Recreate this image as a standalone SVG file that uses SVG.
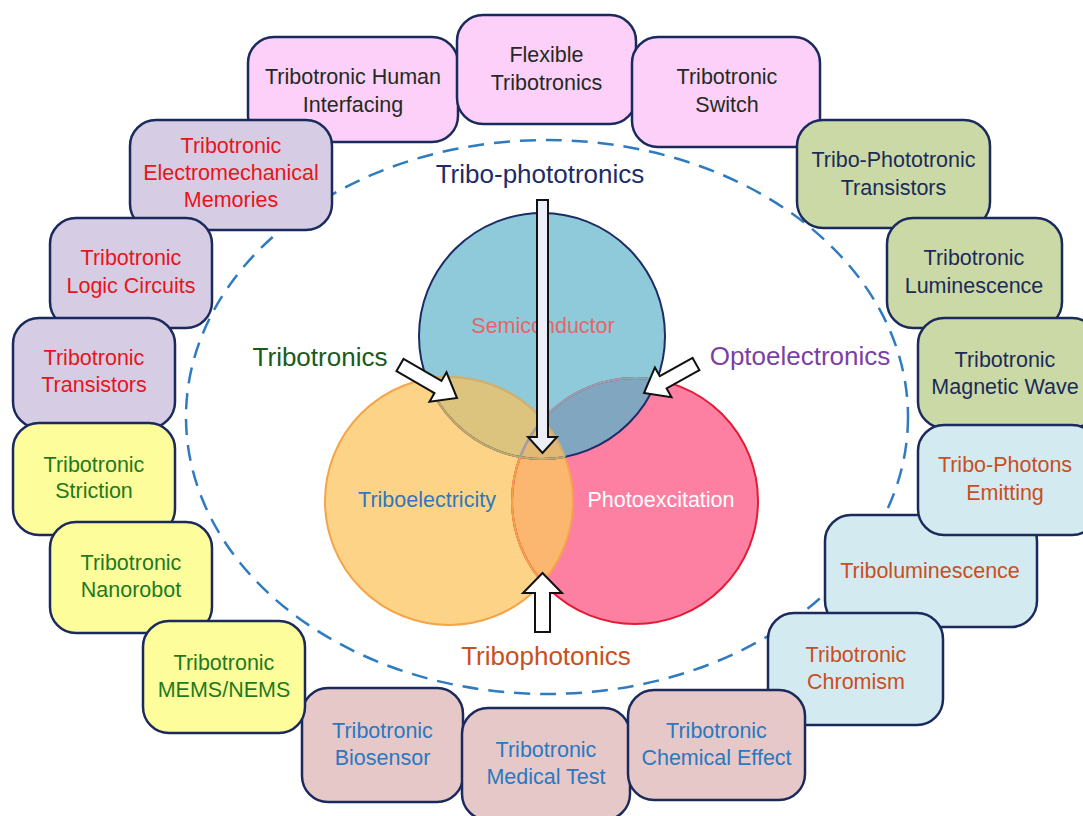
<svg xmlns="http://www.w3.org/2000/svg" width="1083" height="816" viewBox="0 0 1083 816">
<style>
.box{stroke:#1b2a5c;stroke-width:2.5}
.pk{fill:#fcd0f9}.lv{fill:#d6cde4}.yl{fill:#fdfd9b}.rs{fill:#e7c8c9}.lb{fill:#d4eaf1}.gr{fill:#cbd9a6}
.t{font-family:"Liberation Sans",Arial,sans-serif;font-size:21.5px;text-anchor:middle}
.tpk{fill:#1f2b1f}.tlv{fill:#e8141c}.tyl{fill:#1f7a1f}.trs{fill:#2a78c0}.tlb{fill:#c84f1e}.tgr{fill:#1b2b58}
.lab{font-family:"Liberation Sans",Arial,sans-serif;font-size:26px;text-anchor:middle}
.arr{fill:#ffffff;stroke:#111111;stroke-width:2;stroke-linejoin:miter}
</style>
<defs>
<clipPath id="cOr"><circle cx="449" cy="501" r="124"/></clipPath>
<clipPath id="cPk"><circle cx="635" cy="501" r="123"/></clipPath>
<clipPath id="cBl"><circle cx="542" cy="336" r="123"/></clipPath>
</defs>
<rect width="1083" height="816" fill="#ffffff"/>
<ellipse cx="547" cy="417" rx="361" ry="277" fill="none" stroke="#2e7bbf" stroke-width="2.5" stroke-dasharray="16 10"/>

<g id="venn">
<circle cx="449" cy="501" r="124" fill="#fdd487"/>
<circle cx="635" cy="501" r="123" fill="#fd80a3"/>
<circle cx="542" cy="336" r="123" fill="#8ecad9"/>
<g clip-path="url(#cOr)"><circle cx="635" cy="501" r="123" fill="#fbb66f"/><circle cx="542" cy="336" r="123" fill="#dcc47e"/></g>
<g clip-path="url(#cPk)"><circle cx="542" cy="336" r="123" fill="#80a6c0"/></g>
<g clip-path="url(#cOr)"><g clip-path="url(#cPk)"><circle cx="542" cy="336" r="123" fill="#e2b874"/></g></g>
<circle cx="449" cy="501" r="124" fill="none" stroke="#f3a548" stroke-width="2"/>
<circle cx="635" cy="501" r="123" fill="none" stroke="#e41b34" stroke-width="2"/>
<circle cx="542" cy="336" r="123" fill="none" stroke="#1d2c66" stroke-width="2"/>
<g clip-path="url(#cOr)"><circle cx="542" cy="336" r="123" fill="none" stroke="#c6aa6c" stroke-width="2"/><circle cx="635" cy="501" r="123" fill="none" stroke="#f2a24a" stroke-width="2"/></g>
<g clip-path="url(#cBl)"><circle cx="449" cy="501" r="124" fill="none" stroke="#c9b27a" stroke-width="2"/><circle cx="635" cy="501" r="123" fill="none" stroke="#8fa6ba" stroke-width="2"/></g>
<text class="lab" x="543" y="333" style="font-size:21.5px" fill="#e8646a">Semiconductor</text>
<text class="lab" x="427" y="507" style="font-size:21.5px" fill="#2f78bd">Triboelectricity</text>
<text class="lab" x="661" y="507" style="font-size:21.5px" fill="#ffffff">Photoexcitation</text>
</g>

<g id="labels">
<text class="lab" x="540" y="183" fill="#1d2c66">Tribo-phototronics</text>
<text class="lab" x="320" y="366" fill="#1a5a1a">Tribotronics</text>
<text class="lab" x="800" y="365" fill="#7b3fa8">Optoelectronics</text>
<text class="lab" x="546" y="665" fill="#c8501c">Tribophotonics</text>
</g>

<g id="connectors">
<polygon class="arr" style="fill:#eceff7" points="537,200 548,200 548,437 557,437 542.5,453 528,437 537,437"/>
<polygon class="arr" points="542.5,573 562,593 550,593 550,632 535,632 535,593 523,593"/>
<polygon class="arr" points="396.5,371.1 403.5,358.9 441.5,380.9 446.5,372.3 457,398 429.5,401.7 434.5,393.1"/>
<polygon class="arr" points="692.6,357.9 699.4,370.1 666.6,388.4 671.5,397.2 644,393 654.9,367.4 659.8,376.2"/>
</g>

<g id="n-human"><rect class="box pk" x="248" y="37" width="210" height="105" rx="26"/><text class="t tpk" x="353" y="84">Tribotronic Human</text><text class="t tpk" x="353" y="112">Interfacing</text></g>
<g id="n-flexible"><rect class="box pk" x="457" y="15" width="179" height="109" rx="26"/><text class="t tpk" x="546.5" y="62">Flexible</text><text class="t tpk" x="546.5" y="90">Tribotronics</text></g>
<g id="n-switch"><rect class="box pk" x="632" y="37" width="188" height="110" rx="26"/><text class="t tpk" x="727" y="84">Tribotronic</text><text class="t tpk" x="727" y="112">Switch</text></g>
<g id="n-phototrans"><rect class="box gr" x="797" y="120" width="193" height="108" rx="26"/><text class="t tgr" x="893.5" y="167">Tribo-Phototronic</text><text class="t tgr" x="893.5" y="195">Transistors</text></g>
<g id="n-luminescence"><rect class="box gr" x="887" y="218" width="175" height="110" rx="26"/><text class="t tgr" x="974" y="265">Tribotronic</text><text class="t tgr" x="974" y="293">Luminescence</text></g>
<g id="n-magnetic"><rect class="box gr" x="918" y="318" width="180" height="110" rx="26"/><text class="t tgr" x="1005" y="367">Tribotronic</text><text class="t tgr" x="1005" y="394">Magnetic Wave</text></g>
<g id="n-triboluminescence"><rect class="box lb" x="825" y="515" width="212" height="112" rx="26"/><text class="t tlb" x="930" y="578">Triboluminescence</text></g>
<g id="n-photons"><rect class="box lb" x="918" y="425" width="180" height="110" rx="26"/><text class="t tlb" x="1005" y="472">Tribo-Photons</text><text class="t tlb" x="1005" y="500">Emitting</text></g>
<g id="n-chromism"><rect class="box lb" x="768" y="613" width="175" height="112" rx="26"/><text class="t tlb" x="856" y="662">Tribotronic</text><text class="t tlb" x="856" y="689">Chromism</text></g>
<g id="n-biosensor"><rect class="box rs" x="302" y="688" width="161" height="114" rx="26"/><text class="t trs" x="382.5" y="738">Tribotronic</text><text class="t trs" x="382.5" y="765">Biosensor</text></g>
<g id="n-medical"><rect class="box rs" x="462" y="708" width="168" height="112" rx="26"/><text class="t trs" x="546" y="757">Tribotronic</text><text class="t trs" x="546" y="784">Medical Test</text></g>
<g id="n-chemical"><rect class="box rs" x="628" y="690" width="177" height="110" rx="26"/><text class="t trs" x="716.5" y="738">Tribotronic</text><text class="t trs" x="716.5" y="765">Chemical Effect</text></g>
<g id="n-memories"><rect class="box lv" x="130" y="120" width="202" height="110" rx="26"/><text class="t tlv" x="231" y="153">Tribotronic</text><text class="t tlv" x="231" y="180">Electromechanical</text><text class="t tlv" x="231" y="207">Memories</text></g>
<g id="n-logic"><rect class="box lv" x="50" y="218" width="162" height="110" rx="26"/><text class="t tlv" x="131" y="265">Tribotronic</text><text class="t tlv" x="131" y="293">Logic Circuits</text></g>
<g id="n-transistors"><rect class="box lv" x="13" y="318" width="162" height="110" rx="26"/><text class="t tlv" x="94" y="365">Tribotronic</text><text class="t tlv" x="94" y="392">Transistors</text></g>
<g id="n-striction"><rect class="box yl" x="13" y="423" width="162" height="112" rx="26"/><text class="t tyl" x="94" y="472">Tribotronic</text><text class="t tyl" x="94" y="498">Striction</text></g>
<g id="n-nanorobot"><rect class="box yl" x="50" y="522" width="162" height="111" rx="26"/><text class="t tyl" x="131" y="570">Tribotronic</text><text class="t tyl" x="131" y="597">Nanorobot</text></g>
<g id="n-mems"><rect class="box yl" x="143" y="621" width="162" height="112" rx="26"/><text class="t tyl" x="224" y="670">Tribotronic</text><text class="t tyl" x="224" y="697">MEMS/NEMS</text></g>
</svg>
